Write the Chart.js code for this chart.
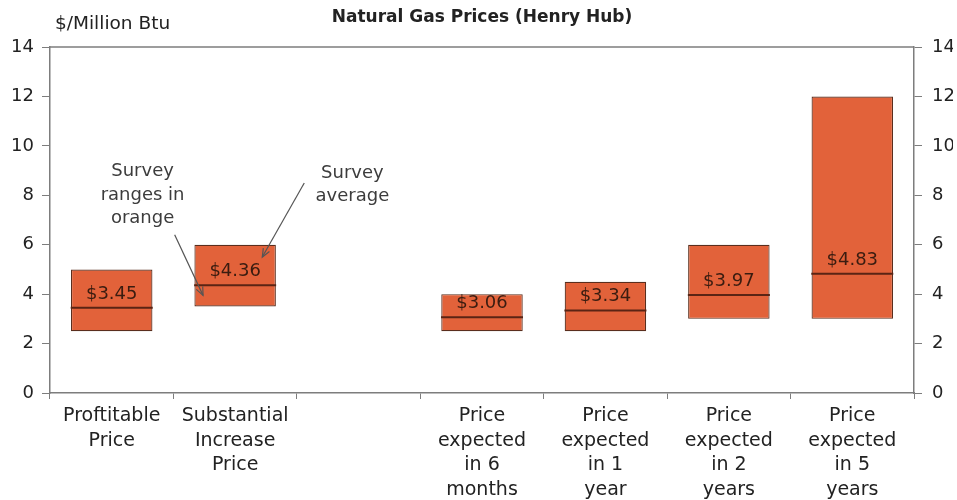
<!DOCTYPE html>
<html>
<head>
<meta charset="utf-8">
<script src="https://cdn.jsdelivr.net/npm/chart.js@4.4.1/dist/chart.umd.min.js"></script>
<style>
  html, body { margin: 0; padding: 0; background: #fff; }
  #wrap { width: 957px; height: 500px; position: relative; }
</style>
</head>
<body>
<div id="wrap"><canvas id="gas"></canvas></div>
<script>
const categories = [
  ["Proftitable", "Price"],
  ["Substantial", "Increase", "Price"],
  "",
  ["Price", "expected", "in 6", "months"],
  ["Price", "expected", "in 1", "year"],
  ["Price", "expected", "in 2", "years"],
  ["Price", "expected", "in 5", "years"],
];
const rangeLow = [2.5, 3.5, null, 2.5, 2.5, 3.0, 3.0];
const rangeHigh = [5.0, 6.0, null, 4.0, 4.5, 6.0, 12.0];
const averages = [3.45, 4.36, null, 3.06, 3.34, 3.97, 4.83];
const yMin = 0, yMax = 14, yStep = 2;

// callouts, placed in data units (x = category index, y = $/MMBtu)
const notes = [
  { lines: ["Survey", "ranges in", "orange"], x: 0.25, y: 8.95, from: [0.51, 6.4], to: [0.74, 3.95] },
  { lines: ["Survey", "average"], x: 1.95, y: 8.9, from: [1.56, 8.5], to: [1.22, 5.5] },
];

const FONT = "'DejaVu Sans', sans-serif";
const INK = "#222";
const AXIS = "#7d7d7d";

const lowHigh = rangeLow.map((lo, i) => (lo == null ? null : [lo, rangeHigh[i]]));

const decor = {
  id: "decor",
  afterDraw(chart) {
    const { ctx, chartArea: a, scales } = chart;
    ctx.save();
    // top frame line
    ctx.strokeStyle = AXIS;
    ctx.lineWidth = 1.5;
    ctx.beginPath();
    ctx.moveTo(a.left, a.top);
    ctx.lineTo(a.right, a.top);
    ctx.stroke();

    // title + unit
    ctx.fillStyle = INK;
    ctx.textBaseline = "middle";
    ctx.textAlign = "center";
    ctx.font = "bold 17px " + FONT;
    ctx.fillText("Natural Gas Prices (Henry Hub)", (a.left + a.right) / 2, 18);
    ctx.textAlign = "left";
    ctx.font = "18.5px " + FONT;
    ctx.fillText("$/Million Btu", 55, 24);

    // average value labels
    const meta = chart.getDatasetMeta(1);
    ctx.font = "18px " + FONT;
    ctx.fillStyle = "#3a1c10";
    ctx.textAlign = "center";
    ctx.textBaseline = "alphabetic";
    meta.data.forEach((pt, i) => {
      if (averages[i] == null) return;
      ctx.fillText("$" + averages[i].toFixed(2), pt.x, pt.y - 9);
    });

    // callouts
    const X = scales.x, Y = scales.y;
    notes.forEach((n) => {
      ctx.fillStyle = "#3c3c3c";
      ctx.font = "18px " + FONT;
      ctx.textBaseline = "middle";
      ctx.textAlign = "center";
      const cx = X.getPixelForValue(n.x);
      const cy = Y.getPixelForValue(n.y);
      n.lines.forEach((t, k) => ctx.fillText(t, cx, cy + k * 23.5));
      const x0 = X.getPixelForValue(n.from[0]), y0 = Y.getPixelForValue(n.from[1]);
      const x1 = X.getPixelForValue(n.to[0]), y1 = Y.getPixelForValue(n.to[1]);
      ctx.strokeStyle = "#555";
      ctx.lineWidth = 1.2;
      ctx.beginPath();
      ctx.moveTo(x0, y0);
      ctx.lineTo(x1, y1);
      ctx.stroke();
      const ang = Math.atan2(y1 - y0, x1 - x0);
      const L = 9, W = 0.4;
      ctx.beginPath();
      ctx.moveTo(x1 - L * Math.cos(ang - W), y1 - L * Math.sin(ang - W));
      ctx.lineTo(x1, y1);
      ctx.lineTo(x1 - L * Math.cos(ang + W), y1 - L * Math.sin(ang + W));
      ctx.stroke();
    });
    ctx.restore();
  },
};

const yTicks = {
  stepSize: yStep,
  color: INK,
  font: { family: FONT, size: 18 },
};

new Chart(document.getElementById("gas"), {
  data: {
    labels: categories,
    datasets: [
      {
        type: "bar",
        label: "Survey range",
        data: lowHigh,
        backgroundColor: "#e2623a",
        borderColor: "#5a2e1e",
        borderWidth: 1.2,
        borderSkipped: false,
        barPercentage: 0.66,
        categoryPercentage: 1,
        order: 2,
        yAxisID: "y",
      },
      {
        type: "line",
        label: "Survey average",
        data: averages,
        showLine: false,
        pointStyle: "line",
        pointRadius: 41,
        pointHoverRadius: 41,
        pointBorderWidth: 2,
        pointBorderColor: "#5a2414",
        order: 1,
        yAxisID: "y",
      },
    ],
  },
  options: {
    responsive: true,
    maintainAspectRatio: false,
    animation: false,
    layout: { padding: { top: 47, left: 0, right: 0, bottom: 0 } },
    plugins: { legend: { display: false }, tooltip: { enabled: false }, title: { display: false } },
    scales: {
      x: {
        offset: true,
        grid: { offset: true, drawOnChartArea: false, drawTicks: true, tickLength: 6, color: AXIS },
        border: { color: AXIS, width: 1.5 },
        ticks: {
          color: INK,
          font: { family: FONT, size: 19, lineHeight: 1.29 },
          padding: 5,
          maxRotation: 0,
          autoSkip: false,
        },
        afterFit(s) { s.height = 107; },
      },
      y: {
        position: "left",
        min: yMin, max: yMax,
        grid: { drawOnChartArea: false, drawTicks: true, tickLength: 8, color: AXIS },
        border: { color: AXIS, width: 1.5 },
        ticks: { ...yTicks, padding: 8 },
        afterFit(s) { s.width = 50; },
      },
      y2: {
        position: "right",
        min: yMin, max: yMax,
        grid: { drawOnChartArea: false, drawTicks: true, tickLength: 8, color: AXIS },
        border: { color: AXIS, width: 1.5 },
        ticks: { ...yTicks, padding: 10 },
        afterFit(s) { s.width = 39; },
      },
    },
  },
  plugins: [decor],
});
</script>
</body>
</html>
